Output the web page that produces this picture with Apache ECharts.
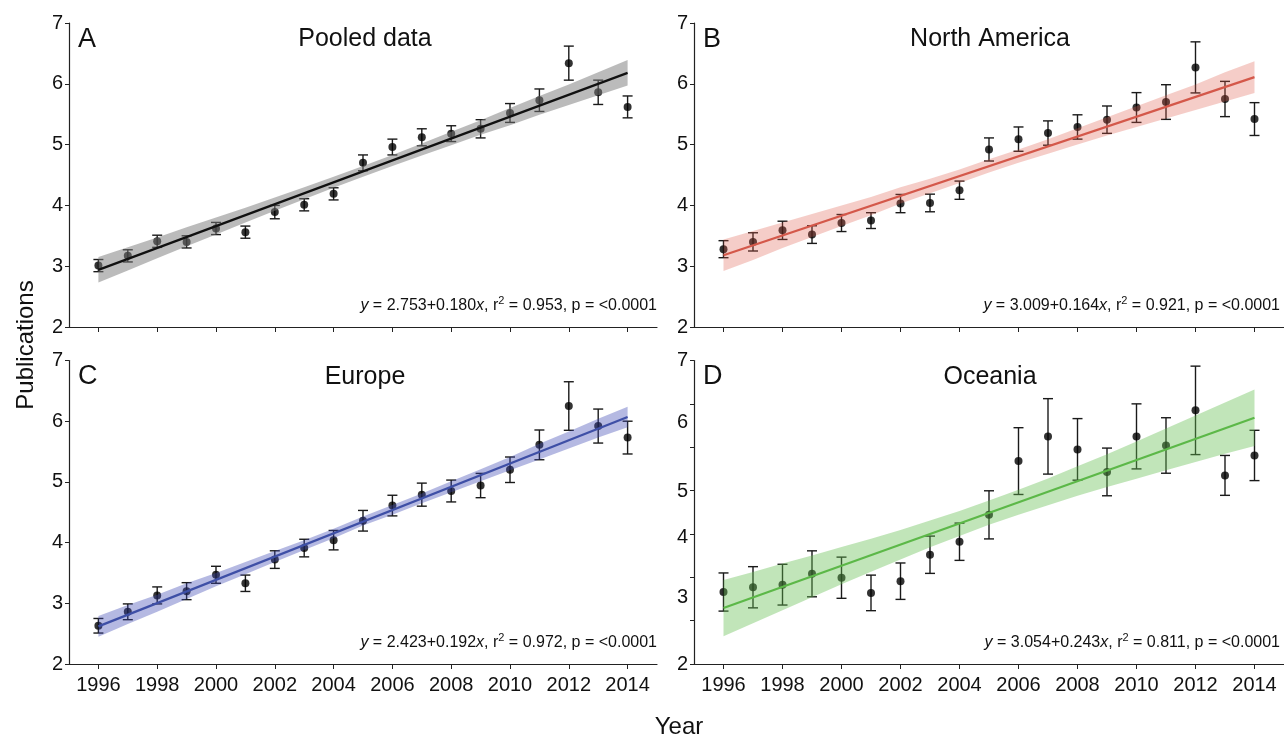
<!DOCTYPE html>
<html>
<head>
<meta charset="utf-8">
<script src="https://cdn.jsdelivr.net/npm/echarts@6/dist/echarts.min.js"></script>
<style>
html, body { margin: 0; padding: 0; background: #fff; }
#chart { width: 1284px; height: 736px; }
</style>
</head>
<body>
<div id="chart"></div>
<script>
const years = [1996, 1997, 1998, 1999, 2000, 2001, 2002, 2003, 2004, 2005, 2006, 2007, 2008, 2009, 2010, 2011, 2012, 2013, 2014]
const yearTicks = [1996, 1998, 2000, 2002, 2004, 2006, 2008, 2010, 2012, 2014]

// A: pooled data
const pooledMean = [3.01, 3.17, 3.41, 3.40, 3.62, 3.56, 3.89, 4.01, 4.19, 4.70, 4.96, 5.12, 5.18, 5.26, 5.52, 5.73, 6.34, 5.86, 5.62]
const pooledErr  = [0.10, 0.10, 0.10, 0.10, 0.10, 0.10, 0.11, 0.10, 0.10, 0.13, 0.13, 0.14, 0.13, 0.15, 0.155, 0.185, 0.28, 0.20, 0.18]
const pooledFit  = [2.94, 6.18]
const pooledLow  = [2.73, 2.93, 3.13, 3.33, 3.52, 3.72, 3.91, 4.10, 4.29, 4.47, 4.65, 4.82, 4.99, 5.16, 5.32, 5.49, 5.65, 5.81, 5.97]
const pooledHigh = [3.15, 3.31, 3.47, 3.64, 3.80, 3.96, 4.13, 4.30, 4.47, 4.65, 4.83, 5.02, 5.21, 5.40, 5.60, 5.80, 5.99, 6.19, 6.39]

// B: North America
const naMean = [3.28, 3.40, 3.59, 3.52, 3.71, 3.75, 4.03, 4.04, 4.25, 4.92, 5.09, 5.19, 5.29, 5.41, 5.61, 5.70, 6.27, 5.75, 5.42]
const naErr  = [0.14, 0.15, 0.15, 0.145, 0.14, 0.13, 0.15, 0.145, 0.15, 0.19, 0.20, 0.20, 0.20, 0.225, 0.245, 0.285, 0.42, 0.29, 0.27]
const naFit  = [3.18, 6.11]
const naLow  = [2.92, 3.10, 3.30, 3.48, 3.66, 3.84, 4.03, 4.20, 4.37, 4.54, 4.70, 4.85, 5.00, 5.15, 5.29, 5.43, 5.57, 5.71, 5.85]
const naHigh = [3.44, 3.58, 3.72, 3.86, 4.00, 4.14, 4.30, 4.44, 4.59, 4.76, 4.92, 5.09, 5.27, 5.45, 5.63, 5.81, 5.99, 6.19, 6.37]

// C: Europe
const euMean = [2.63, 2.86, 3.13, 3.20, 3.47, 3.33, 3.72, 3.91, 4.04, 4.36, 4.61, 4.79, 4.85, 4.94, 5.20, 5.61, 6.25, 5.92, 5.73]
const euErr  = [0.12, 0.13, 0.14, 0.14, 0.14, 0.135, 0.145, 0.145, 0.16, 0.17, 0.17, 0.19, 0.18, 0.20, 0.21, 0.245, 0.40, 0.28, 0.27]
const euFit  = [2.62, 6.07]
const euLow  = [2.45, 2.66, 2.86, 3.07, 3.28, 3.48, 3.68, 3.88, 4.07, 4.28, 4.46, 4.65, 4.83, 5.01, 5.19, 5.37, 5.55, 5.73, 5.90]
const euHigh = [2.79, 2.97, 3.14, 3.33, 3.50, 3.68, 3.86, 4.04, 4.23, 4.43, 4.62, 4.81, 5.01, 5.21, 5.41, 5.63, 5.83, 6.04, 6.24]

// D: Oceania (plotted on its own 2..9 scale, labelled as printed)
const ocMean = [3.66, 3.77, 3.83, 4.08, 3.99, 3.64, 3.91, 4.52, 4.82, 5.44, 6.68, 7.25, 6.95, 6.43, 7.25, 7.04, 7.85, 6.35, 6.81]
const ocErr  = [0.44, 0.475, 0.47, 0.53, 0.475, 0.41, 0.42, 0.43, 0.43, 0.555, 0.77, 0.87, 0.71, 0.55, 0.75, 0.64, 1.02, 0.46, 0.58]
const ocFit  = [3.29, 7.68]
const ocLow  = [2.64, 2.94, 3.24, 3.54, 3.84, 4.13, 4.41, 4.69, 4.95, 5.21, 5.44, 5.66, 5.88, 6.08, 6.27, 6.47, 6.66, 6.85, 7.03]
const ocHigh = [3.94, 4.12, 4.32, 4.50, 4.70, 4.89, 5.09, 5.31, 5.53, 5.77, 6.02, 6.28, 6.56, 6.84, 7.13, 7.43, 7.73, 8.03, 8.33]
const ocLabelAt   = [2, 3.54, 4.92, 5.97, 7.56, 9]
const ocLabelText = ['2', '3', '4', '5', '6', '7']

const FONT = '"Liberation Sans", Arial, Helvetica, sans-serif'

const panels = [
    { letter: 'A', title: 'Pooled data', mean: pooledMean, err: pooledErr, fit: pooledFit, low: pooledLow, high: pooledHigh,
      eq: ['2.753', '0.180', '0.953'], line: '#111111', band: 'rgba(120,120,120,0.5)',
      left: 69, top: 23, width: 588, height: 304, yMax: 7, xLabels: false },
    { letter: 'B', title: 'North America', mean: naMean, err: naErr, fit: naFit, low: naLow, high: naHigh,
      eq: ['3.009', '0.164', '0.921'], line: '#d4584a', band: 'rgba(222,90,72,0.3)',
      left: 694, top: 23, width: 590, height: 304, yMax: 7, xLabels: false },
    { letter: 'C', title: 'Europe', mean: euMean, err: euErr, fit: euFit, low: euLow, high: euHigh,
      eq: ['2.423', '0.192', '0.972'], line: '#3e4fa6', band: 'rgba(60,70,180,0.38)',
      left: 69, top: 360.5, width: 588, height: 303.5, yMax: 7, xLabels: true },
    { letter: 'D', title: 'Oceania', mean: ocMean, err: ocErr, fit: ocFit, low: ocLow, high: ocHigh,
      eq: ['3.054', '0.243', '0.811'], line: '#5cb848', band: 'rgba(100,190,80,0.4)',
      left: 694, top: 360.5, width: 590, height: 303.5, yMax: 9, xLabels: true }
]

const axisColor = '#222'

function bandRender (p) {
    return function (params, api) {
        if (params.dataIndex !== 0) return null
        const top = years.map((y, i) => api.coord([y, p.high[i]]))
        const bot = years.map((y, i) => api.coord([y, p.low[i]])).reverse()
        return { type: 'polygon', shape: { points: top.concat(bot) }, style: { fill: p.band } }
    }
}

function errRender (params, api) {
    const x = api.value(0)
    const a = api.coord([x, api.value(2)])
    const b = api.coord([x, api.value(1)])
    const w = 5
    const st = { stroke: '#1a1a1a', lineWidth: 1.4 }
    return {
        type: 'group',
        children: [
            { type: 'line', shape: { x1: a[0], y1: a[1], x2: b[0], y2: b[1] }, style: st },
            { type: 'line', shape: { x1: a[0] - w, y1: a[1], x2: a[0] + w, y2: a[1] }, style: st },
            { type: 'line', shape: { x1: b[0] - w, y1: b[1], x2: b[0] + w, y2: b[1] }, style: st }
        ]
    }
}

const grid = [], xAxis = [], yAxis = [], series = [], graphic = []

panels.forEach((p, k) => {
    grid.push({ left: p.left, top: p.top, width: p.width, height: p.height })
    xAxis.push({
        type: 'value', gridIndex: k, min: 1995, max: 2015,
        splitLine: { show: false },
        axisLine: { lineStyle: { color: axisColor, width: 1.2 } },
        axisTick: { show: true, length: 5, customValues: yearTicks, lineStyle: { color: axisColor } },
        axisLabel: {
            show: p.xLabels, customValues: yearTicks, margin: 11,
            color: '#111', fontSize: 20, fontFamily: FONT,
            formatter: v => String(v)
        }
    })
    const isOc = p.yMax === 9
    yAxis.push({
        type: 'value', gridIndex: k, min: 2, max: p.yMax, interval: 1,
        splitLine: { show: false },
        axisLine: { show: true, lineStyle: { color: axisColor, width: 1.2 } },
        axisTick: { show: true, length: 4, lineStyle: { color: axisColor } },
        axisLabel: {
            margin: 6, color: '#111', fontSize: 20, fontFamily: FONT,
            customValues: isOc ? ocLabelAt : undefined,
            formatter: isOc
                ? v => {
                    let best = 0
                    ocLabelAt.forEach((a, i) => { if (Math.abs(a - v) < Math.abs(ocLabelAt[best] - v)) best = i })
                    return ocLabelText[best]
                }
                : v => String(v)
        }
    })

    series.push({
        type: 'custom', xAxisIndex: k, yAxisIndex: k, z: 2,
        renderItem: errRender, silent: true,
        encode: { x: 0, y: [1, 2] },
        data: years.map((y, i) => [y, p.mean[i] - p.err[i], p.mean[i] + p.err[i]])
    })
    series.push({
        type: 'scatter', xAxisIndex: k, yAxisIndex: k, z: 3,
        symbol: 'circle', symbolSize: 8, silent: true,
        itemStyle: { color: '#000' },
        data: years.map((y, i) => [y, p.mean[i]])
    })
    series.push({
        type: 'custom', xAxisIndex: k, yAxisIndex: k, z: 4,
        renderItem: bandRender(p), silent: true,
        encode: { x: 0, y: [1, 2] },
        data: years.map((y, i) => [y, p.low[i], p.high[i]])
    })
    series.push({
        type: 'line', xAxisIndex: k, yAxisIndex: k, z: 5,
        showSymbol: false, silent: true,
        lineStyle: { color: p.line, width: 2.2 },
        data: [[years[0], p.fit[0]], [years[years.length - 1], p.fit[1]]]
    })

    const textBase = { fill: '#111', fontFamily: FONT }
    graphic.push({
        type: 'text', left: p.left + 9, top: p.top + 3, z: 10,
        style: Object.assign({ text: p.letter, fontSize: 27 }, textBase)
    })
    graphic.push({
        type: 'text', x: p.left + 296, y: p.top + 16.5, z: 10,
        style: Object.assign({ text: p.title, fontSize: 25, align: 'center', verticalAlign: 'middle' }, textBase)
    })
    graphic.push({
        type: 'text', x: p.left + p.width - (p.left > 600 ? 4 : 0), y: p.top + p.height - 21, z: 10,
        style: Object.assign({
            text: `{i|y} = ${p.eq[0]}+${p.eq[1]}{i|x}, r{s|2} = ${p.eq[2]}, p = <0.0001`,
            fontSize: 16, align: 'right', verticalAlign: 'middle',
            rich: {
                i: { fontStyle: 'italic', fontSize: 16, fontFamily: FONT, fill: '#111' },
                s: { fontSize: 11, fontFamily: FONT, fill: '#111', verticalAlign: 'top', padding: [0, 0, 10, 0] }
            }
        }, textBase)
    })
})

graphic.push({
    type: 'text', x: 679, y: 727, z: 10,
    style: { text: 'Year', fontSize: 24, fontFamily: FONT, fill: '#111', align: 'center', verticalAlign: 'middle' }
})
graphic.push({
    type: 'text', x: 26, y: 345, rotation: Math.PI / 2, z: 10,
    style: { text: 'Publications', fontSize: 24, fontFamily: FONT, fill: '#111', align: 'center', verticalAlign: 'middle' }
})

const chart = echarts.init(document.getElementById('chart'))
chart.setOption({
    animation: false,
    backgroundColor: '#fff',
    grid, xAxis, yAxis, series, graphic
})
</script>
</body>
</html>
